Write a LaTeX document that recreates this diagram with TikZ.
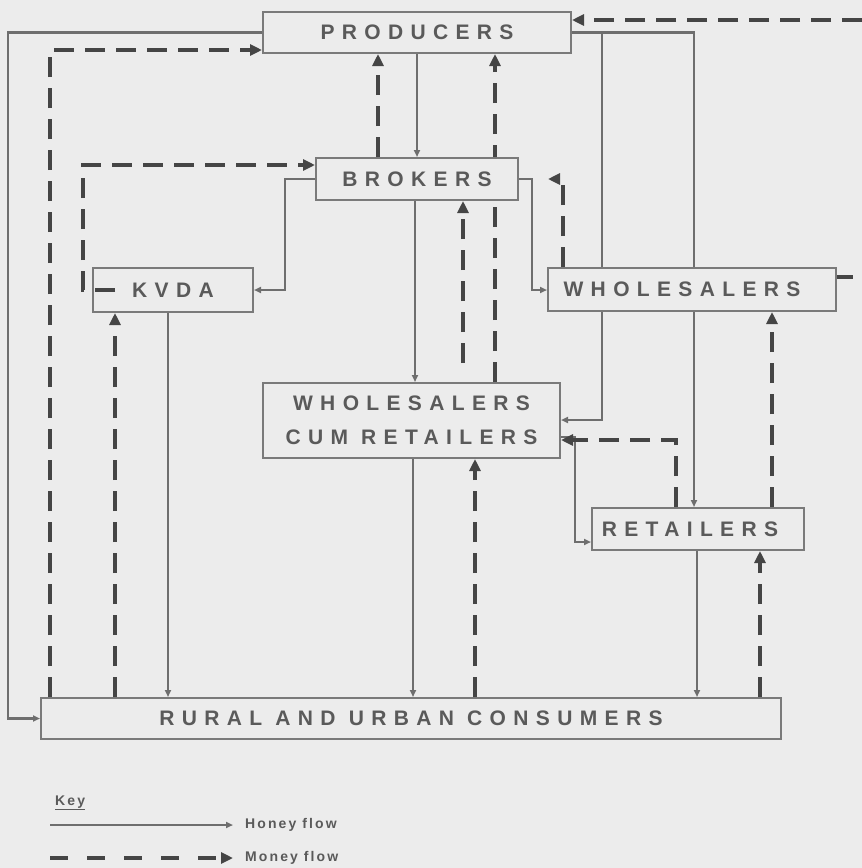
\documentclass[tikz,border=0pt]{standalone}
\usepackage{fontspec}
\newfontfamily\boxfont{Liberation Sans}[LetterSpace=35]
\newfontfamily\keyfont{Liberation Sans}[LetterSpace=15]
\usetikzlibrary{arrows.meta}
\pgfdeclarelayer{back}
\pgfdeclarelayer{lines}
\pgfsetlayers{back,lines,main}
\definecolor{bgc}{HTML}{ECECEC}
\definecolor{boxgray}{HTML}{7A7A7A}
\definecolor{linegray}{HTML}{6E6E6E}
\definecolor{dashgray}{HTML}{454545}
\definecolor{txtgray}{HTML}{5A5A5A}
\tikzset{
  box/.style={draw=boxgray, line width=2pt, fill=bgc, rectangle, inner sep=0pt,
    font=\boxfont\bfseries\fontsize{21}{34}\selectfont, text=txtgray, align=center},
  honey/.style={draw=linegray, line width=2.6pt, -{Triangle[length=7pt,width=6pt]}},
  money/.style={draw=dashgray, line width=4.5pt, dash pattern=on 20pt off 11pt,
    -{Triangle[length=12pt,width=11pt]}},
  moneyline/.style={draw=dashgray, line width=4.5pt},
  keytext/.style={font=\keyfont\bfseries\fontsize{14}{16}\selectfont, text=txtgray, inner sep=0pt, anchor=west}
}
\begin{document}
\begin{tikzpicture}[x=1pt,y=-1pt]
\useasboundingbox (0,0) rectangle (862,868);
\begin{pgfonlayer}{back}
\fill[bgc] (0,0) rectangle (862,868);
\end{pgfonlayer}

% boxes
\node[box, minimum width=308pt, minimum height=41pt] (prod) at (417,32.5) {PRODUCERS};
\node[box, minimum width=202pt, minimum height=42pt] (brok) at (417,179) {BROKERS};
\node[box, minimum width=160pt, minimum height=44pt] (kvda) at (173,290) {KVDA};
\node[box, minimum width=288pt, minimum height=43pt] (whol) at (692,289.5) {WHOLESALERS\hspace{20pt}};
\node[box, minimum width=297pt, minimum height=75pt] (wcr) at (411.5,420.5) {WHOLESALERS\\CUM RETAILERS};
\node[box, minimum width=212pt, minimum height=42pt] (ret) at (698,529) {RETAILERS\hspace{16pt}};
\node[box, minimum width=740pt, minimum height=41pt] (cons) at (411,718.5) {RURAL AND URBAN CONSUMERS};

\begin{pgfonlayer}{lines}
% honey flow (solid)
\draw[honey] (prod.west) -- (8,32.5) -- (8,718.5) -- (cons.west);
\draw[honey] (prod.south) -- (brok.north);
\draw[honey] (prod.east) -- (602,32.5) -- (602,420) -- (wcr.east |- 0,420);
\draw[honey] (prod.east) -- (694,32.5) -- (694,0 |- ret.north);
\draw[honey] (brok.west) -- (285,179) -- (285,290) -- (kvda.east);
\draw[honey] (brok.east) -- (532,179) -- (532,290) -- (whol.west |- 0,290);
\draw[honey] (415,0 |- brok.south) -- (415,0 |- wcr.north);
\draw[honey] (168,0 |- kvda.south) -- (168,0 |- cons.north);
\draw[honey] (413,0 |- wcr.south) -- (413,0 |- cons.north);
\draw[honey] (wcr.east |- 0,437) -- (575,437) -- (575,542) -- (ret.west |- 0,542);
\draw[honey] (697,0 |- ret.south) -- (697,0 |- cons.north);
% money flow passing behind BROKERS
\draw[money] (495,0 |- wcr.north) -- (495,0 |- prod.south);
\end{pgfonlayer}

% money flow (dashed)
\draw[money] (50,0 |- cons.north) -- (50,50) -- (prod.west |- 0,50);
\draw[money] (115,290) -- (83,290) -- (83,165) -- (brok.west |- 0,165);
\draw[money] (115,0 |- cons.north) -- (115,0 |- kvda.south);
\draw[money] (378,0 |- brok.north) -- (378,0 |- prod.south);
\coordinate (wcrtop) at (463,363);
\draw[money] (wcrtop) -- (463,0 |- brok.south);
\draw[money] (563,0 |- whol.north) -- (563,179) -- (548,179);
\draw[money] (772,0 |- ret.north) -- (772,0 |- whol.south);
\draw[money] (760,0 |- cons.north) -- (760,0 |- ret.south);
\draw[money] (475,0 |- cons.north) -- (475,0 |- wcr.south);
\draw[money] (676,0 |- ret.north) -- (676,440) -- (wcr.east |- 0,440);
\coordinate (offright) at (862,20);
\draw[money] (offright) -- (prod.east |- 0,20);
\coordinate (wholout) at (853,277);
\draw[moneyline] (whol.east |- 0,277) -- (wholout);

% key
\node[keytext] (key) at (55,803) {\underline{Key}};
\coordinate (k1a) at (50,825);
\node[keytext] (hf) at (245,825) {Honey flow};
\draw[honey, shorten >=12pt] (k1a) -- (hf.west);
\coordinate (k2a) at (50,858);
\node[keytext] (mf) at (245,858) {Money flow};
\draw[money, dash pattern=on 18pt off 19pt, shorten >=12pt] (k2a) -- (mf.west);
\end{tikzpicture}
\end{document}
